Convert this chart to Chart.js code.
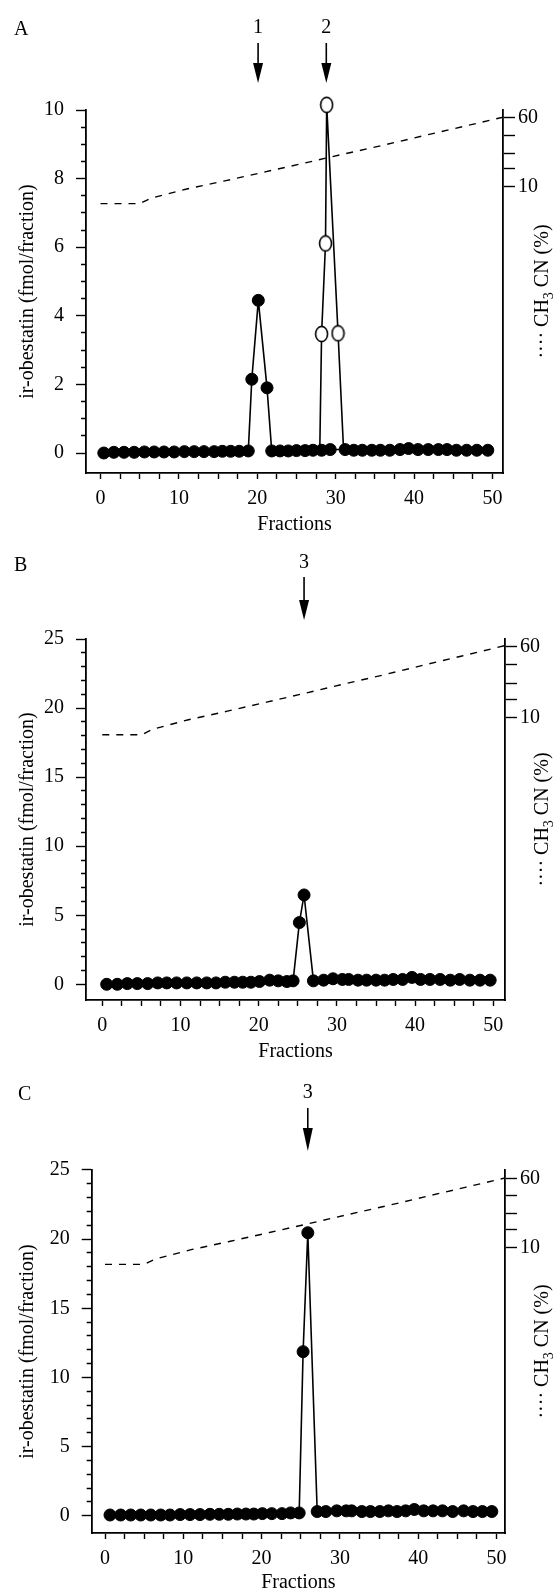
<!DOCTYPE html>
<html>
<head>
<meta charset="utf-8">
<script src="https://cdn.jsdelivr.net/npm/chart.js@4.4.0/dist/chart.umd.min.js"></script>
<style>
  body { margin: 0; background: #fff; width: 554px; height: 1595px; position: relative; overflow: hidden; }
  canvas { position: absolute; left: 0; }
</style>
</head>
<body>
<canvas id="chartA" width="554" height="540" style="top:0px"></canvas>
<canvas id="chartB" width="554" height="535" style="top:540px"></canvas>
<canvas id="chartC" width="554" height="520" style="top:1075px"></canvas>
<script>
// ---- data ----

// acetonitrile gradient (dashed line), fraction -> CH3CN %
const gradX   = [0, 5, 6.5, 11, 16, 21, 26, 31, 36, 41, 46, 51.6];
const gradPct = [6.5, 6.5, 7.5, 9.5, 11.8, 14.8, 18.6, 23.5, 29.5, 37.5, 47.5, 62];

// panel A, filled circles
const fracA = [0.42, 1.7, 3.0, 4.3, 5.6, 6.85, 8.1, 9.4, 10.7, 11.95, 13.2, 14.5, 15.55, 16.6, 17.7, 18.85,
               19.3, 20.13, 21.24,
               21.84, 22.9, 23.95, 25.0, 26.1, 27.1, 28.2, 29.3, 31.2, 32.3, 33.4, 34.6, 35.7, 36.9, 38.2,
               39.3, 40.5, 41.8, 43.1, 44.2, 45.4, 46.7, 48.0, 49.4];
const valA  = [0.0, 0.02, 0.02, 0.02, 0.03, 0.03, 0.03, 0.03, 0.04, 0.04, 0.04, 0.04, 0.05, 0.05, 0.05, 0.06,
               2.15, 4.45, 1.9,
               0.06, 0.06, 0.06, 0.07, 0.07, 0.08, 0.08, 0.1, 0.1, 0.08, 0.08, 0.08, 0.08, 0.08, 0.1,
               0.13, 0.1, 0.1, 0.1, 0.1, 0.08, 0.08, 0.08, 0.08];
// panel A, open circles
const openFracA = [27.97, 28.2, 28.7, 28.85, 30.3, 31.0];
const openValA  = [0.08, 3.47, 6.11, 10.15, 3.49, 0.1];

// panel B, filled circles
const fracB = [0.56, 1.92, 3.2, 4.48, 5.8, 7.08, 8.24, 9.5, 10.8, 12.07, 13.35, 14.54, 15.73, 16.9, 17.95, 19.0,
               20.1, 21.4, 22.5, 23.6, 24.4, 25.2, 25.8, 27.0, 28.3, 29.5, 30.7, 31.5, 32.7, 33.8, 35.0, 36.1,
               37.2, 38.4, 39.6, 40.7, 41.9, 43.2, 44.5, 45.7, 47.0, 48.3, 49.6];
const valB  = [0.0, 0.0, 0.05, 0.05, 0.05, 0.1, 0.1, 0.1, 0.1, 0.1, 0.1, 0.1, 0.15, 0.15, 0.15, 0.15,
               0.2, 0.3, 0.25, 0.2, 0.25, 4.47, 6.47, 0.25, 0.3, 0.4, 0.35, 0.35, 0.3, 0.3, 0.3, 0.3,
               0.35, 0.35, 0.5, 0.35, 0.35, 0.35, 0.3, 0.35, 0.3, 0.3, 0.3];

// panel C, filled circles
const fracC = [0.64, 2.0, 3.28, 4.56, 5.84, 7.11, 8.3, 9.6, 10.86, 12.13, 13.4, 14.6, 15.75, 16.9, 18.0, 19.0,
               20.1, 21.3, 22.6, 23.7, 24.8, 25.3, 25.9, 27.1, 28.2, 29.6, 30.8, 31.5, 32.8, 33.9, 35.1, 36.2,
               37.3, 38.4, 39.5, 40.7, 41.9, 43.1, 44.4, 45.8, 47.0, 48.2, 49.4];
const valC  = [0.05, 0.05, 0.05, 0.05, 0.05, 0.05, 0.05, 0.08, 0.08, 0.08, 0.1, 0.1, 0.1, 0.12, 0.12, 0.12,
               0.15, 0.15, 0.15, 0.2, 0.2, 11.86, 20.46, 0.3, 0.3, 0.35, 0.35, 0.35, 0.3, 0.3, 0.3, 0.35,
               0.3, 0.35, 0.45, 0.35, 0.35, 0.35, 0.3, 0.35, 0.3, 0.3, 0.3];

// axis ticks
const xTicks  = [0, 2.5, 5, 7.5, 10, 12.5, 15, 17.5, 20, 22.5, 25, 27.5, 30, 32.5, 35, 37.5, 40, 42.5, 45, 47.5, 50];
const xLabels = [0, 10, 20, 30, 40, 50];
const yTicksA  = [0, 0.5, 1, 1.5, 2, 2.5, 3, 3.5, 4, 4.5, 5, 5.5, 6, 6.5, 7, 7.5, 8, 8.5, 9, 9.5, 10];
const yLabelsA = [0, 2, 4, 6, 8, 10];
const yTicksBC  = [0, 1, 2, 3, 4, 5, 6, 7, 8, 9, 10, 11, 12, 13, 14, 15, 16, 17, 18, 19, 20, 21, 22, 23, 24, 25];
const yLabelsBC = [0, 5, 10, 15, 20, 25];
const rightTicks  = [10, 16, 24, 38, 60];
const rightLabels = [10, 60];

// peak arrows
const arrowXA = [20.1, 28.8];
const arrowTextA = ['1', '2'];
const arrowXB = [25.8];
const arrowXC = [25.9];
const arrowTextBC = ['3'];

const FONT = '"Liberation Serif", "Times New Roman", serif';
Chart.defaults.font.family = FONT;
Chart.defaults.color = '#000';

// open marker: slightly tall ellipse, as in the print
const openMark = document.createElement('canvas');
openMark.width = 15; openMark.height = 18;
(function () {
  const c = openMark.getContext('2d');
  c.fillStyle = '#fff';
  c.strokeStyle = '#000';
  c.lineWidth = 1.6;
  c.beginPath();
  c.ellipse(7.5, 9, 6, 7.6, 0, 0, Math.PI * 2);
  c.fill();
  c.stroke();
})();

// letters, arrows and the right-hand axis title
const annot = {
  id: 'annot',
  afterDraw(chart, args, o) {
    const ctx = chart.ctx;
    const xs = chart.scales.x;
    const ca = chart.chartArea;
    ctx.save();
    ctx.fillStyle = '#000';
    ctx.strokeStyle = '#000';
    ctx.font = '20px ' + FONT;
    ctx.textBaseline = 'middle';
    ctx.textAlign = 'left';
    ctx.fillText(o.letter, o.letterX, o.letterY);

    o.arrowX.forEach((v, i) => {
      const px = xs.getPixelForValue(v);
      ctx.textAlign = 'center';
      ctx.fillText(o.arrowText[i], px, o.labelY);
      ctx.lineWidth = 1.6;
      ctx.beginPath();
      ctx.moveTo(px, o.shaftTop);
      ctx.lineTo(px, o.headTop + 2);
      ctx.stroke();
      ctx.beginPath();
      ctx.moveTo(px - 5, o.headTop);
      ctx.lineTo(px + 5, o.headTop);
      ctx.lineTo(px, o.tip);
      ctx.closePath();
      ctx.fill();
    });

    // "···· CH3 CN (%)" reading bottom to top
    const cy = (ca.top + ca.bottom) / 2;
    ctx.translate(o.rtX, cy);
    ctx.rotate(-Math.PI / 2);
    ctx.textBaseline = 'alphabetic';
    ctx.textAlign = 'left';
    const big = '20px ' + FONT, small = '14px ' + FONT;
    const parts = [['···· CH', big, 0], ['3', small, 5], [' CN (%)', big, 0]];
    let total = 0;
    parts.forEach(p => { ctx.font = p[1]; total += ctx.measureText(p[0]).width; });
    let tx = -total / 2;
    parts.forEach(p => {
      ctx.font = p[1];
      ctx.fillText(p[0], tx, p[2]);
      tx += ctx.measureText(p[0]).width;
    });
    ctx.restore();
  }
};

function makePanel(id, H, L, series, yTicks, yLabels, arrowX, arrowText) {
  const xmin = (L.left - L.x0) / L.xPx, xmax = (L.right - L.x0) / L.xPx;
  const ymin = (L.y0 - L.bottom) / L.yPx, ymax = (L.y0 - L.top) / L.yPx;
  const dec = Math.log10(6) / (L.y10 - L.y60);
  const rmax = Math.pow(10, Math.log10(60) + (L.y60 - L.top) * dec);
  const rmin = Math.pow(10, 1 - (L.bottom - L.y10) * dec);

  const datasets = series.map(s => ({
    data: s.x.map((v, i) => ({ x: v, y: s.y[i] })),
    yAxisID: 'y',
    showLine: true,
    tension: 0,
    borderColor: '#000',
    borderWidth: 1.6,
    pointStyle: s.open ? openMark : 'circle',
    // open-circle baseline points sit behind the filled row
    pointRadius: s.open ? (c => (c.raw && c.raw.y < 0.5 ? 0 : 6)) : 6,
    pointBorderWidth: 1,
    pointBorderColor: '#000',
    pointBackgroundColor: '#000',
    order: s.open ? 2 : 1,
    clip: false
  }));
  datasets.push({
    data: gradX.map((v, i) => ({ x: v, y: gradPct[i] })),
    yAxisID: 'y2',
    showLine: true,
    tension: 0,
    borderColor: '#000',
    borderWidth: 1.4,
    borderDash: [7, 7],
    pointRadius: 0,
    order: 3
  });

  const tickFont = { family: FONT, size: 20 };

  new Chart(document.getElementById(id), {
    type: 'scatter',
    data: { datasets },
    plugins: [annot],
    options: {
      responsive: false,
      animation: false,
      devicePixelRatio: 1,
      layout: { padding: { top: L.top, left: 0, right: 0, bottom: 0 } },
      plugins: {
        legend: { display: false },
        tooltip: { enabled: false },
        annot: {
          letter: L.letter, letterX: L.letterX, letterY: L.letterY,
          arrowX: arrowX, arrowText: arrowText,
          labelY: L.arrow[0], shaftTop: L.arrow[1], headTop: L.arrow[2], tip: L.arrow[3],
          rtX: 548
        }
      },
      scales: {
        x: {
          type: 'linear', position: 'bottom', bounds: 'data',
          min: xmin, max: xmax,
          afterBuildTicks: s => { s.ticks = xTicks.map(v => ({ value: v })); },
          afterFit: s => { s.height = H - L.bottom; },
          ticks: {
            autoSkip: false, maxRotation: 0, padding: 8, color: '#000', font: tickFont,
            callback: v => xLabels.includes(v) ? String(v) : ''
          },
          grid: { drawOnChartArea: false, drawTicks: true, tickLength: 6, tickWidth: 1.4, tickColor: '#000' },
          border: { display: true, color: '#000', width: 1.8 },
          title: { display: true, text: 'Fractions', color: '#000', font: { family: FONT, size: 20 },
                   padding: { top: 0, bottom: L.titlePad } }
        },
        y: {
          type: 'linear', position: 'left', bounds: 'data',
          min: ymin, max: ymax,
          afterBuildTicks: s => { s.ticks = yTicks.map(v => ({ value: v })); },
          afterFit: s => { s.width = L.left; },
          ticks: {
            autoSkip: false, padding: 12, color: '#000', font: tickFont,
            callback: v => yLabels.includes(v) ? String(v) : ''
          },
          grid: {
            drawOnChartArea: false, drawTicks: true, tickLength: 10, tickWidth: 1.4, tickColor: '#000',
            tickBorderDash: ctx => yLabels.includes(ctx.tick.value) ? [] : [0, 5, 5, 100]
          },
          border: { display: true, color: '#000', width: 1.8 },
          title: { display: true, text: 'ir-obestatin (fmol/fraction)', color: '#000',
                   font: { family: FONT, size: 20 }, padding: { top: 16, bottom: 0 } }
        },
        y2: {
          type: 'logarithmic', position: 'right', bounds: 'data',
          min: rmin, max: rmax,
          afterBuildTicks: s => { s.ticks = rightTicks.map(v => ({ value: v })); },
          afterFit: s => { s.width = 554 - L.right; },
          ticks: {
            autoSkip: false, padding: 3, color: '#000', font: tickFont,
            callback: v => rightLabels.includes(v) ? String(v) : ''
          },
          grid: { drawOnChartArea: false, drawTicks: true, tickLength: 12, tickWidth: 1.4, tickColor: '#000' },
          border: { display: true, color: '#000', width: 1.8 }
        }
      }
    }
  });
}

// panel geometry, in canvas pixels
makePanel('chartA', 540,
  { top: 110, bottom: 473, left: 86, right: 503, x0: 100.5, xPx: 7.84, y0: 453, yPx: 34.3,
    y60: 118, y10: 187, titlePad: 3, letter: 'A', letterX: 14, letterY: 30, arrow: [28, 43, 63, 83] },
  [{ x: fracA, y: valA, open: false }, { x: openFracA, y: openValA, open: true }],
  yTicksA, yLabelsA, arrowXA, arrowTextA);

makePanel('chartB', 535,
  { top: 99, bottom: 460, left: 86, right: 505, x0: 102.3, xPx: 7.82, y0: 444.3, yPx: 13.81,
    y60: 106.7, y10: 177.7, titlePad: 11, letter: 'B', letterX: 14, letterY: 26, arrow: [23, 37, 60, 80] },
  [{ x: fracB, y: valB, open: false }],
  yTicksBC, yLabelsBC, arrowXB, arrowTextBC);

makePanel('chartC', 520,
  { top: 95, bottom: 458, left: 91.7, right: 505, x0: 105, xPx: 7.83, y0: 440.7, yPx: 13.83,
    y60: 103.3, y10: 172.7, titlePad: 0, letter: 'C', letterX: 18, letterY: 20, arrow: [18, 33, 53, 76] },
  [{ x: fracC, y: valC, open: false }],
  yTicksBC, yLabelsBC, arrowXC, arrowTextBC);
</script>
</body>
</html>
